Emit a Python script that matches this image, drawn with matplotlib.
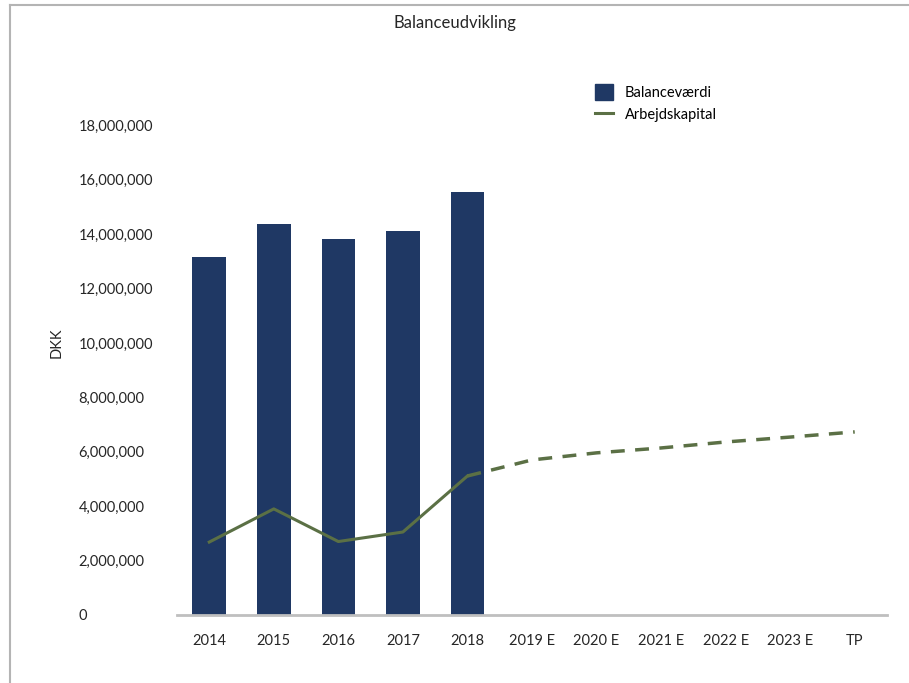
import matplotlib.pyplot as plt
from matplotlib.lines import Line2D
from matplotlib.patches import Patch
from matplotlib.ticker import FuncFormatter

plt.rcParams['font.family'] = ['Lato', 'DejaVu Sans']

categories = ['2014', '2015', '2016', '2017', '2018', '2019 E', '2020 E',
              '2021 E', '2022 E', '2023 E', 'TP']
balance = [13160000, 14370000, 13820000, 14120000, 15550000]
working_capital = [2680000, 3900000, 2700000, 3050000, 5110000,
                   5700000, 5960000, 6140000, 6360000, 6540000, 6730000]

bar_color = '#1f3864'
line_color = '#5b7045'
n_hist = len(balance)

fig = plt.figure(figsize=(9.09, 6.83), dpi=100)
ax = fig.add_axes([0.1947, 0.0996, 0.7811, 0.7965])

x = list(range(len(categories)))
ax.bar(x[:n_hist], balance, width=0.52, color=bar_color, zorder=2)
ax.plot(x[:n_hist], working_capital[:n_hist], color=line_color, lw=2.2, zorder=3)
ax.plot(x[n_hist - 1:], working_capital[n_hist - 1:], color=line_color, lw=2.5,
        ls=(0, (4, 3)), zorder=3)

ax.set_xlim(-0.5, len(categories) - 0.5)
ax.set_ylim(0, 20000000)
ax.set_yticks(range(0, 18000001, 2000000))
ax.yaxis.set_major_formatter(FuncFormatter(lambda v, p: f'{int(v):,}'))
ax.set_xticks(x)
ax.set_xticklabels(categories)

for side in ['left', 'right', 'top']:
    ax.spines[side].set_visible(False)
ax.spines['bottom'].set_color('#bfbfbf')
ax.spines['bottom'].set_linewidth(2)
ax.tick_params(axis='both', length=0, labelsize=10.5, colors='#262626')
ax.tick_params(axis='y', pad=71)
ax.tick_params(axis='x', pad=14)
for lbl in ax.get_yticklabels():
    lbl.set_horizontalalignment('left')

ax.set_ylabel('DKK', fontsize=10.5, color='#262626')
ax.yaxis.set_label_coords(-0.16, 0.5)

fig.text(0.5, 0.966, 'Balanceudvikling', ha='center', va='center',
         fontsize=12, color='#262626')

handles = [Patch(facecolor=bar_color, edgecolor=bar_color),
           Line2D([0], [0], color=line_color, lw=2.2)]
ax.legend(handles, ['Balanceværdi', 'Arbejdskapital'], loc='upper left',
          bbox_to_anchor=(0.57, 1.0), frameon=False, fontsize=10.5,
          handlelength=1.25, handleheight=1.25, handletextpad=0.8,
          labelspacing=0.45)

# thin frame around the chart area
fig.add_artist(Line2D([10 / 909, 908 / 909], [1 - 5 / 683, 1 - 5 / 683],
                      color='#b4b4b4', lw=1.5, transform=fig.transFigure))
fig.add_artist(Line2D([10 / 909, 10 / 909], [0, 1 - 5 / 683],
                      color='#b4b4b4', lw=1.5, transform=fig.transFigure))

fig.savefig('out.png', dpi=100)
